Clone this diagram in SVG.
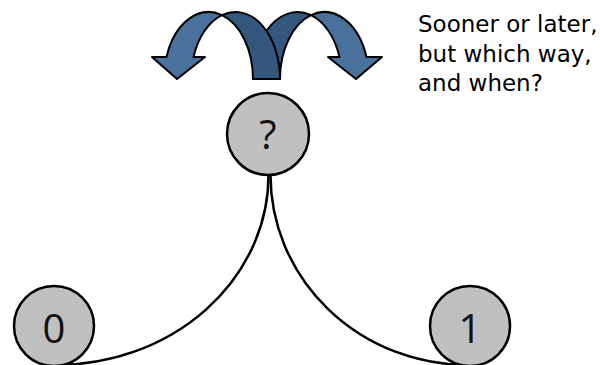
<svg xmlns="http://www.w3.org/2000/svg" width="600" height="365" viewBox="0 0 600 365">
  <style>
    .node { fill: #c0c0c0; stroke: #000; stroke-width: 2.5; }
    .label { font-family: "Open Sans", "DejaVu Sans", sans-serif; font-size: 40px; fill: #111; text-anchor: middle; }
    .edge { fill: none; stroke: #000; stroke-width: 2.5; }
    .front { fill: #4a709c; stroke: #000; stroke-width: 2; stroke-linejoin: round; }
    .back { fill: #34577e; stroke: #000; stroke-width: 2; stroke-linejoin: round; }
    .note { font-family: "DejaVu Sans", "Liberation Sans", sans-serif; font-size: 23px; fill: #000; }
  </style>
  <rect width="600" height="365" fill="#fff"/>

  <!-- curved arrows above the top node: right one behind, left one in front -->
  <g id="arrow-right">
    <path class="back" d="M 311 15.2 A 44.5 67 0 0 0 280 79 L 253 79 A 44.5 67 0 0 1 311 15.2 Z"/>
    <path class="front" d="M 311 15.2 A 44.5 67 0 0 1 366.5 57 L 382 57 L 356 79 L 328 57 L 339.5 57 A 44.5 67 0 0 0 311 15.2 Z"/>
  </g>
  <g id="arrow-left">
    <path class="back" d="M 222 15.2 A 44.5 67 0 0 1 253 79 L 280 79 A 44.5 67 0 0 0 222 15.2 Z"/>
    <path class="front" d="M 222 15.2 A 44.5 67 0 0 0 166.5 57 L 152 57 L 177 79 L 205 57 L 193.5 57 A 44.5 67 0 0 1 222 15.2 Z"/>
  </g>

  <g id="connectors">
    <path class="edge" d="M 268.5 175 A 212.5 190 0 0 1 56 365"/>
    <path class="edge" d="M 270.5 175 A 197.5 190 0 0 0 468 365"/>
  </g>

  <g id="node-q">
    <circle class="node" cx="268" cy="134" r="41"/>
    <text class="label" x="268" y="149">?</text>
  </g>
  <g id="node-0">
    <circle class="node" cx="54" cy="326" r="40"/>
    <text class="label" x="54" y="343">0</text>
  </g>
  <g id="node-1">
    <circle class="node" cx="470" cy="326" r="40"/>
    <text class="label" x="470" y="343">1</text>
  </g>

  <g id="caption">
    <text class="note" x="418" y="32">Sooner or later,</text>
    <text class="note" x="418" y="62">but which way,</text>
    <text class="note" x="418" y="91">and when?</text>
  </g>
</svg>
